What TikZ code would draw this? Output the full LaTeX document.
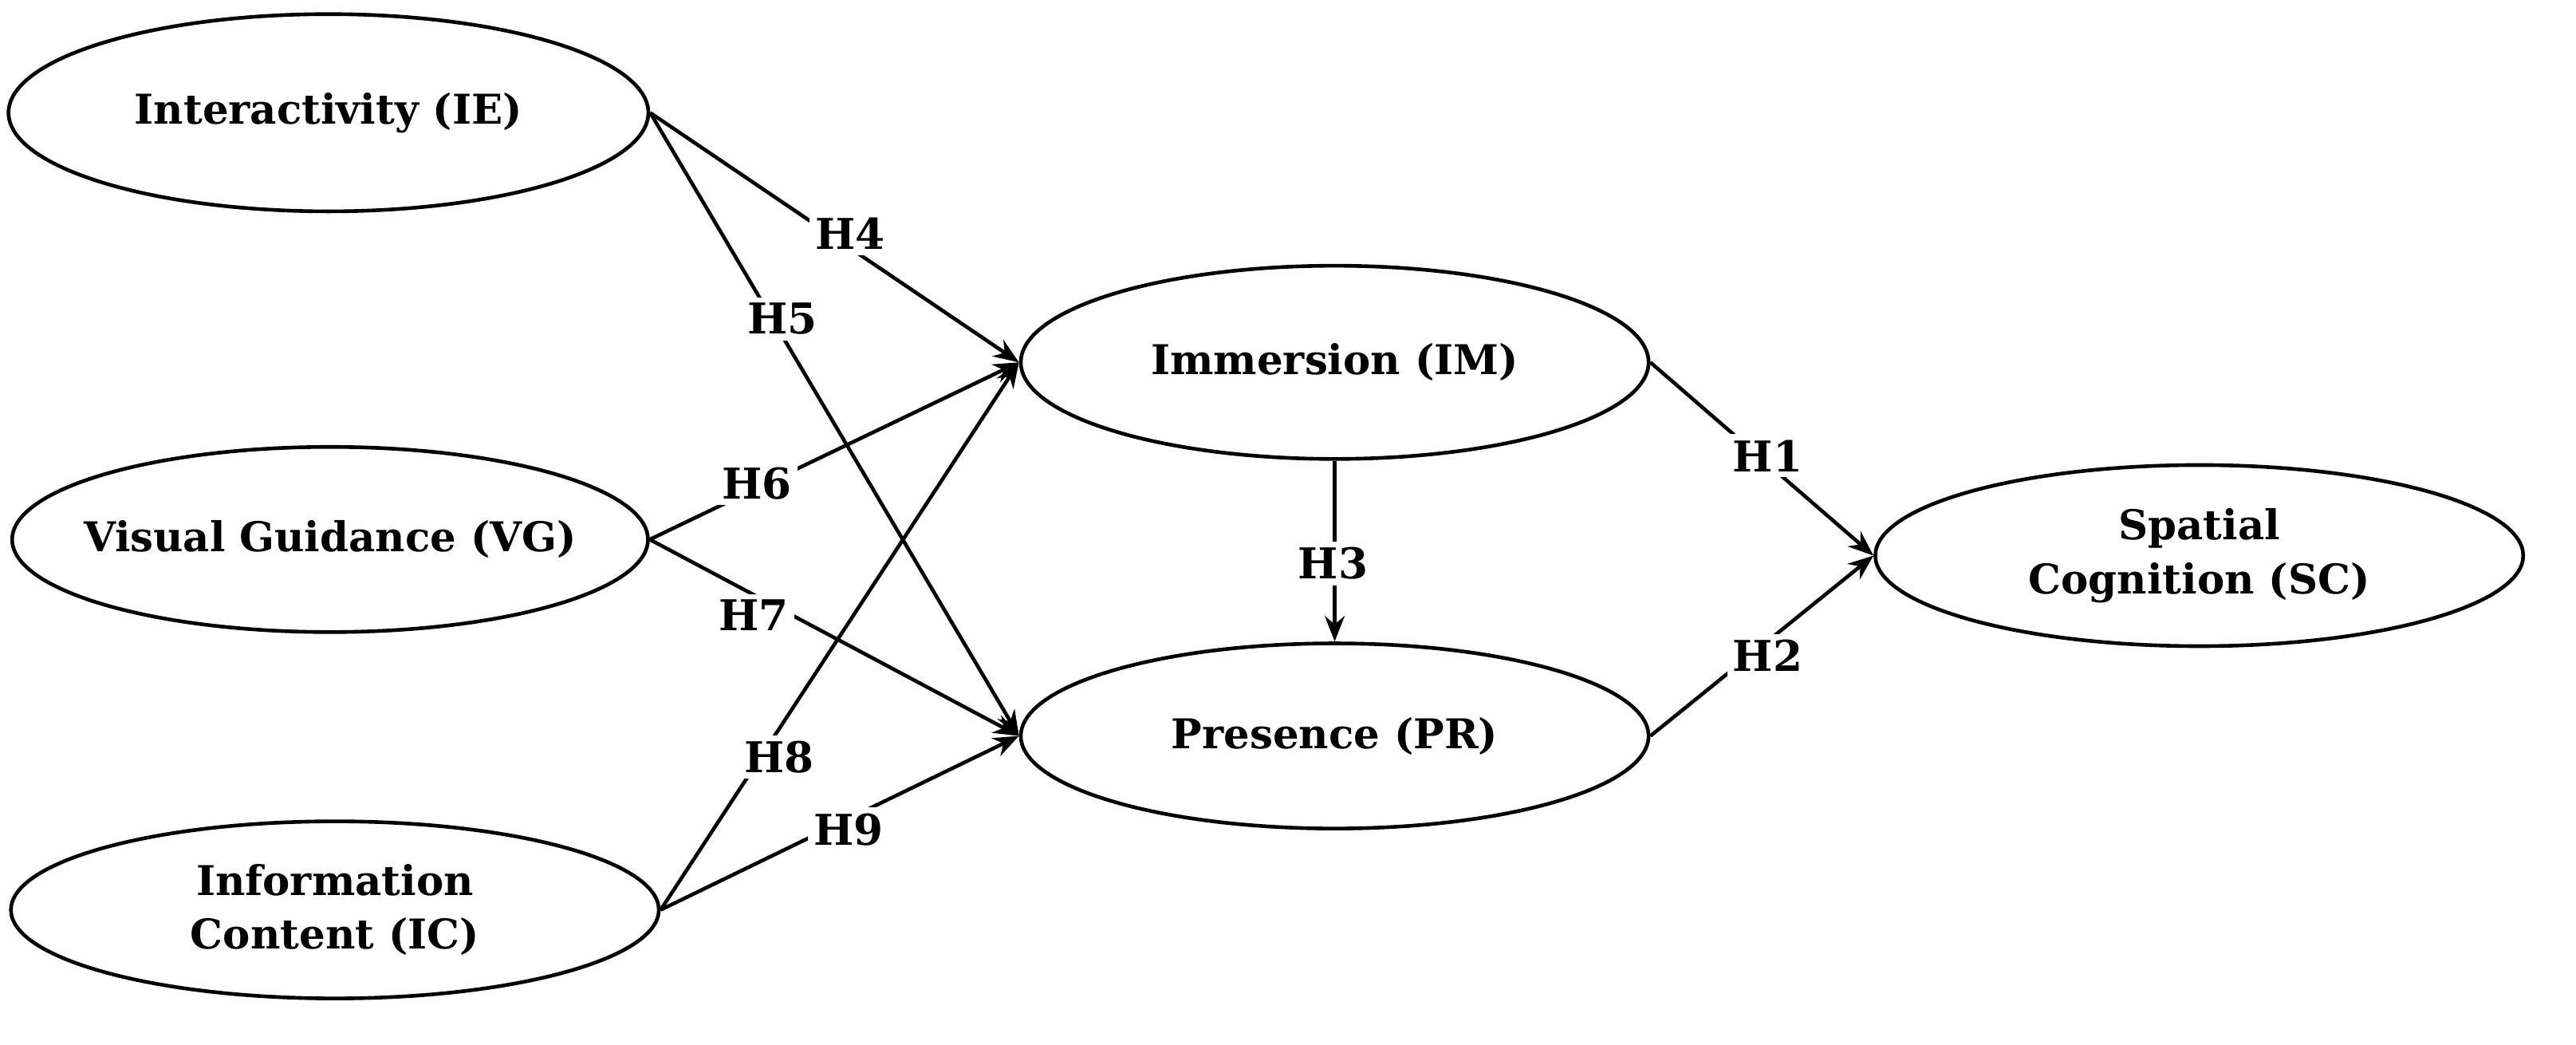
\documentclass[tikz,border=0pt]{standalone}
\usepackage{fontspec}
\setmainfont{DejaVu Serif}
\usetikzlibrary{shapes.geometric,arrows.meta}
\begin{document}
\begin{tikzpicture}[x=0.02cm,y=-0.02cm,
 el/.style={ellipse,draw,line width=1.3pt,minimum width=#1,inner sep=0pt,font=\fontsize{14.5}{19}\selectfont\bfseries,align=center},
 ar/.style={line width=1.3pt,-{Stealth[length=9pt,width=7pt]}},
 lb/.style={fill=white,inner sep=2pt,font=\fontsize{15}{18}\selectfont\bfseries}]
\useasboundingbox (0,0) rectangle (1600,648.5);
\node[el=7.95cm,minimum height=2.45cm] (IE) at (204,70) {Interactivity (IE)};
\node[el=7.9cm,minimum height=2.3cm,inner xsep=-22pt] (VG) at (205,335) {Visual Guidance (VG)};
\node[el=8.05cm,minimum height=2.2cm] (IC) at (208,565) {Information\\Content (IC)};
\node[el=7.8cm,minimum height=2.4cm] (IM) at (829,225) {Immersion (IM)};
\node[el=7.8cm,minimum height=2.3cm] (PR) at (829,457) {Presence (PR)};
\node[el=8.05cm,minimum height=2.25cm] (SC) at (1366,345) {Spatial\\Cognition (SC)};
\draw[ar] (IE.east) -- (IM.west);
\draw[ar] (IE.east) -- (PR.west);
\draw[ar] (VG.east) -- (IM.west);
\draw[ar] (VG.east) -- (PR.west);
\draw[ar] (IC.east) -- (IM.west);
\draw[ar] (IC.east) -- (PR.west);
\draw[ar] (IM.east) -- (SC.west);
\draw[ar] (PR.east) -- (SC.west);
\draw[ar] (IM.south) -- (PR.north);
\node[lb] (h4) at (528,145) {H4};
\node[lb] (h5) at (486,198) {H5};
\node[lb] (h6) at (470,300) {H6};
\node[lb] (h7) at (468,382) {H7};
\node[lb] (h8) at (484,470) {H8};
\node[lb] (h9) at (527,515) {H9};
\node[lb] (h1) at (1098,283) {H1};
\node[lb] (h2) at (1098,407) {H2};
\node[lb] (h3) at (828,350) {H3};
\end{tikzpicture}
\end{document}
